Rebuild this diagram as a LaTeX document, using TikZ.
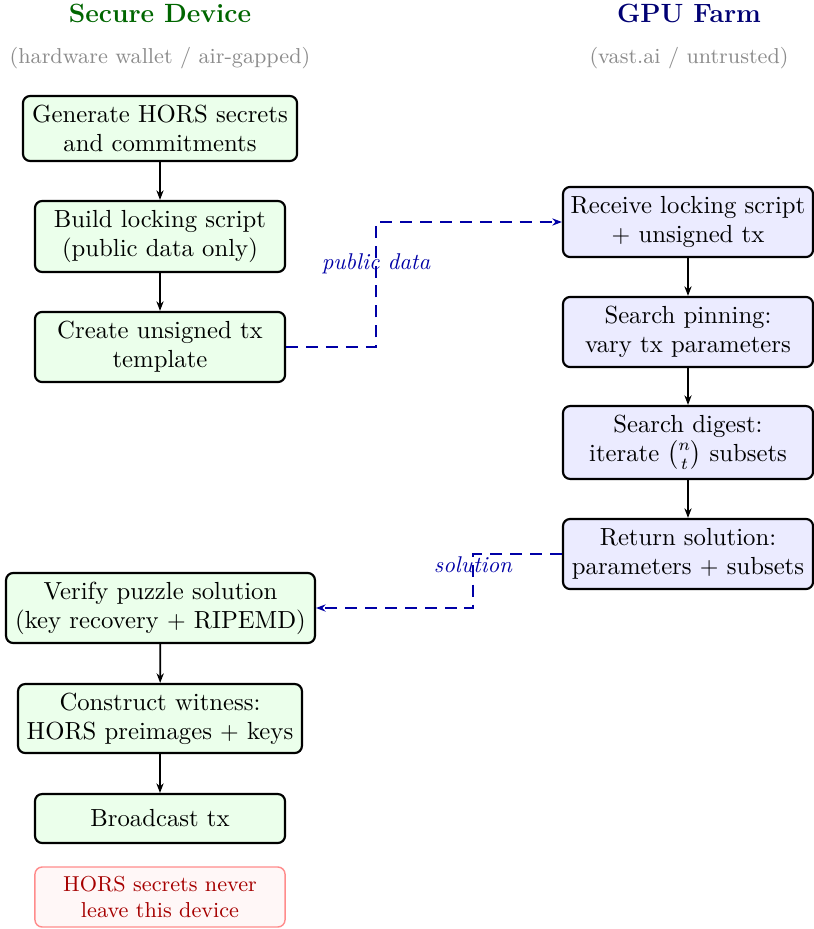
\documentclass[tikz,border=0pt]{standalone}
\usepackage{amsmath}
\usetikzlibrary{arrows.meta}
\begin{document}
\begin{tikzpicture}[x=0.41667pt,y=-0.41667pt,
  box/.style={draw=black, line width=0.9pt, rounded corners=3pt, align=center, inner sep=2pt,
    font=\fontsize{10.3}{12}\selectfont},
  sec/.style={box, fill=green!8},
  gpu/.style={box, fill=blue!8},
  flow/.style={-{Stealth[length=4pt,width=3pt]}, line width=0.7pt},
  xfer/.style={-{Stealth[length=4pt,width=3pt]}, draw=blue!65!black, line width=0.9pt, dash pattern=on 5pt off 3.3pt},
  lab/.style={font=\fontsize{9.5}{11}\selectfont\itshape, text=blue!65!black, inner sep=0pt},
  ttl/.style={font=\fontsize{11}{13}\selectfont\bfseries},
  sub/.style={font=\small, text=black!45},
]
\useasboundingbox (0,0) rectangle (813,929);

% titles
\node[ttl, text=green!40!black] (t1) at (160,13) {Secure Device};
\node[sub] (s1) at (160,58) {(hardware wallet / air-gapped)};
\node[ttl, text=blue!45!black] (t2) at (689,13) {GPU Farm};
\node[sub] (s2) at (689,58) {(vast.ai / untrusted)};

% secure device column
\node[sec, minimum width=114.2pt, minimum height=27.1pt] (A) at (160,128.5) {Generate HORS secrets\\and commitments};
\node[sec, minimum width=104.2pt, minimum height=29.6pt] (B) at (160,236.5) {Build locking script\\(public data only)};
\node[sec, minimum width=104.2pt, minimum height=29.2pt] (C) at (160,347) {Create unsigned tx\\template};
\node[sec, minimum width=128.7pt, minimum height=29.2pt] (H) at (160.5,608) {Verify puzzle solution\\(key recovery $+$ RIPEMD)};
\node[sec, minimum width=118.3pt, minimum height=28.75pt] (I) at (160,718.5) {Construct witness:\\HORS preimages $+$ keys};
\node[sec, minimum width=104.2pt, minimum height=20.4pt] (J) at (160,818.5) {Broadcast tx};
\node[box, draw=red!45, line width=0.6pt, fill=red!3, text=red!65!black, font=\small,
      minimum width=104.2pt, minimum height=25pt] (K) at (160,897) {HORS secrets never\\leave this device};

% gpu column
\node[gpu, minimum width=104.2pt, minimum height=29.2pt] (D) at (688,222) {Receive locking script\\$+$ unsigned tx};
\node[gpu, minimum width=104.2pt, minimum height=29.2pt] (E) at (688,332) {Search pinning:\\vary tx parameters};
\node[gpu, minimum width=104.2pt, minimum height=30.4pt] (F) at (688,442.5) {Search digest:\\iterate $\binom{n}{t}$ subsets};
\node[gpu, minimum width=104.2pt, minimum height=29.2pt] (G) at (688,554) {Return solution:\\parameters $+$ subsets};

% flows
\draw[flow] (A) -- (B);
\draw[flow] (B) -- (C);
\draw[flow] (H) -- (I);
\draw[flow] (I) -- (J);
\draw[flow] (D) -- (E);
\draw[flow] (E) -- (F);
\draw[flow] (F) -- (G);

% transfers
\coordinate (k1) at (376,264);
\coordinate (k2) at (473,565);
\draw[xfer] (C.east) -| (k1) |- (D.west);
\node[lab] (l1) at (k1) {public data};
\draw[xfer] (G.west) -| (k2) |- (H.east);
\node[lab] (l2) at (k2) {solution};
\end{tikzpicture}
\end{document}
